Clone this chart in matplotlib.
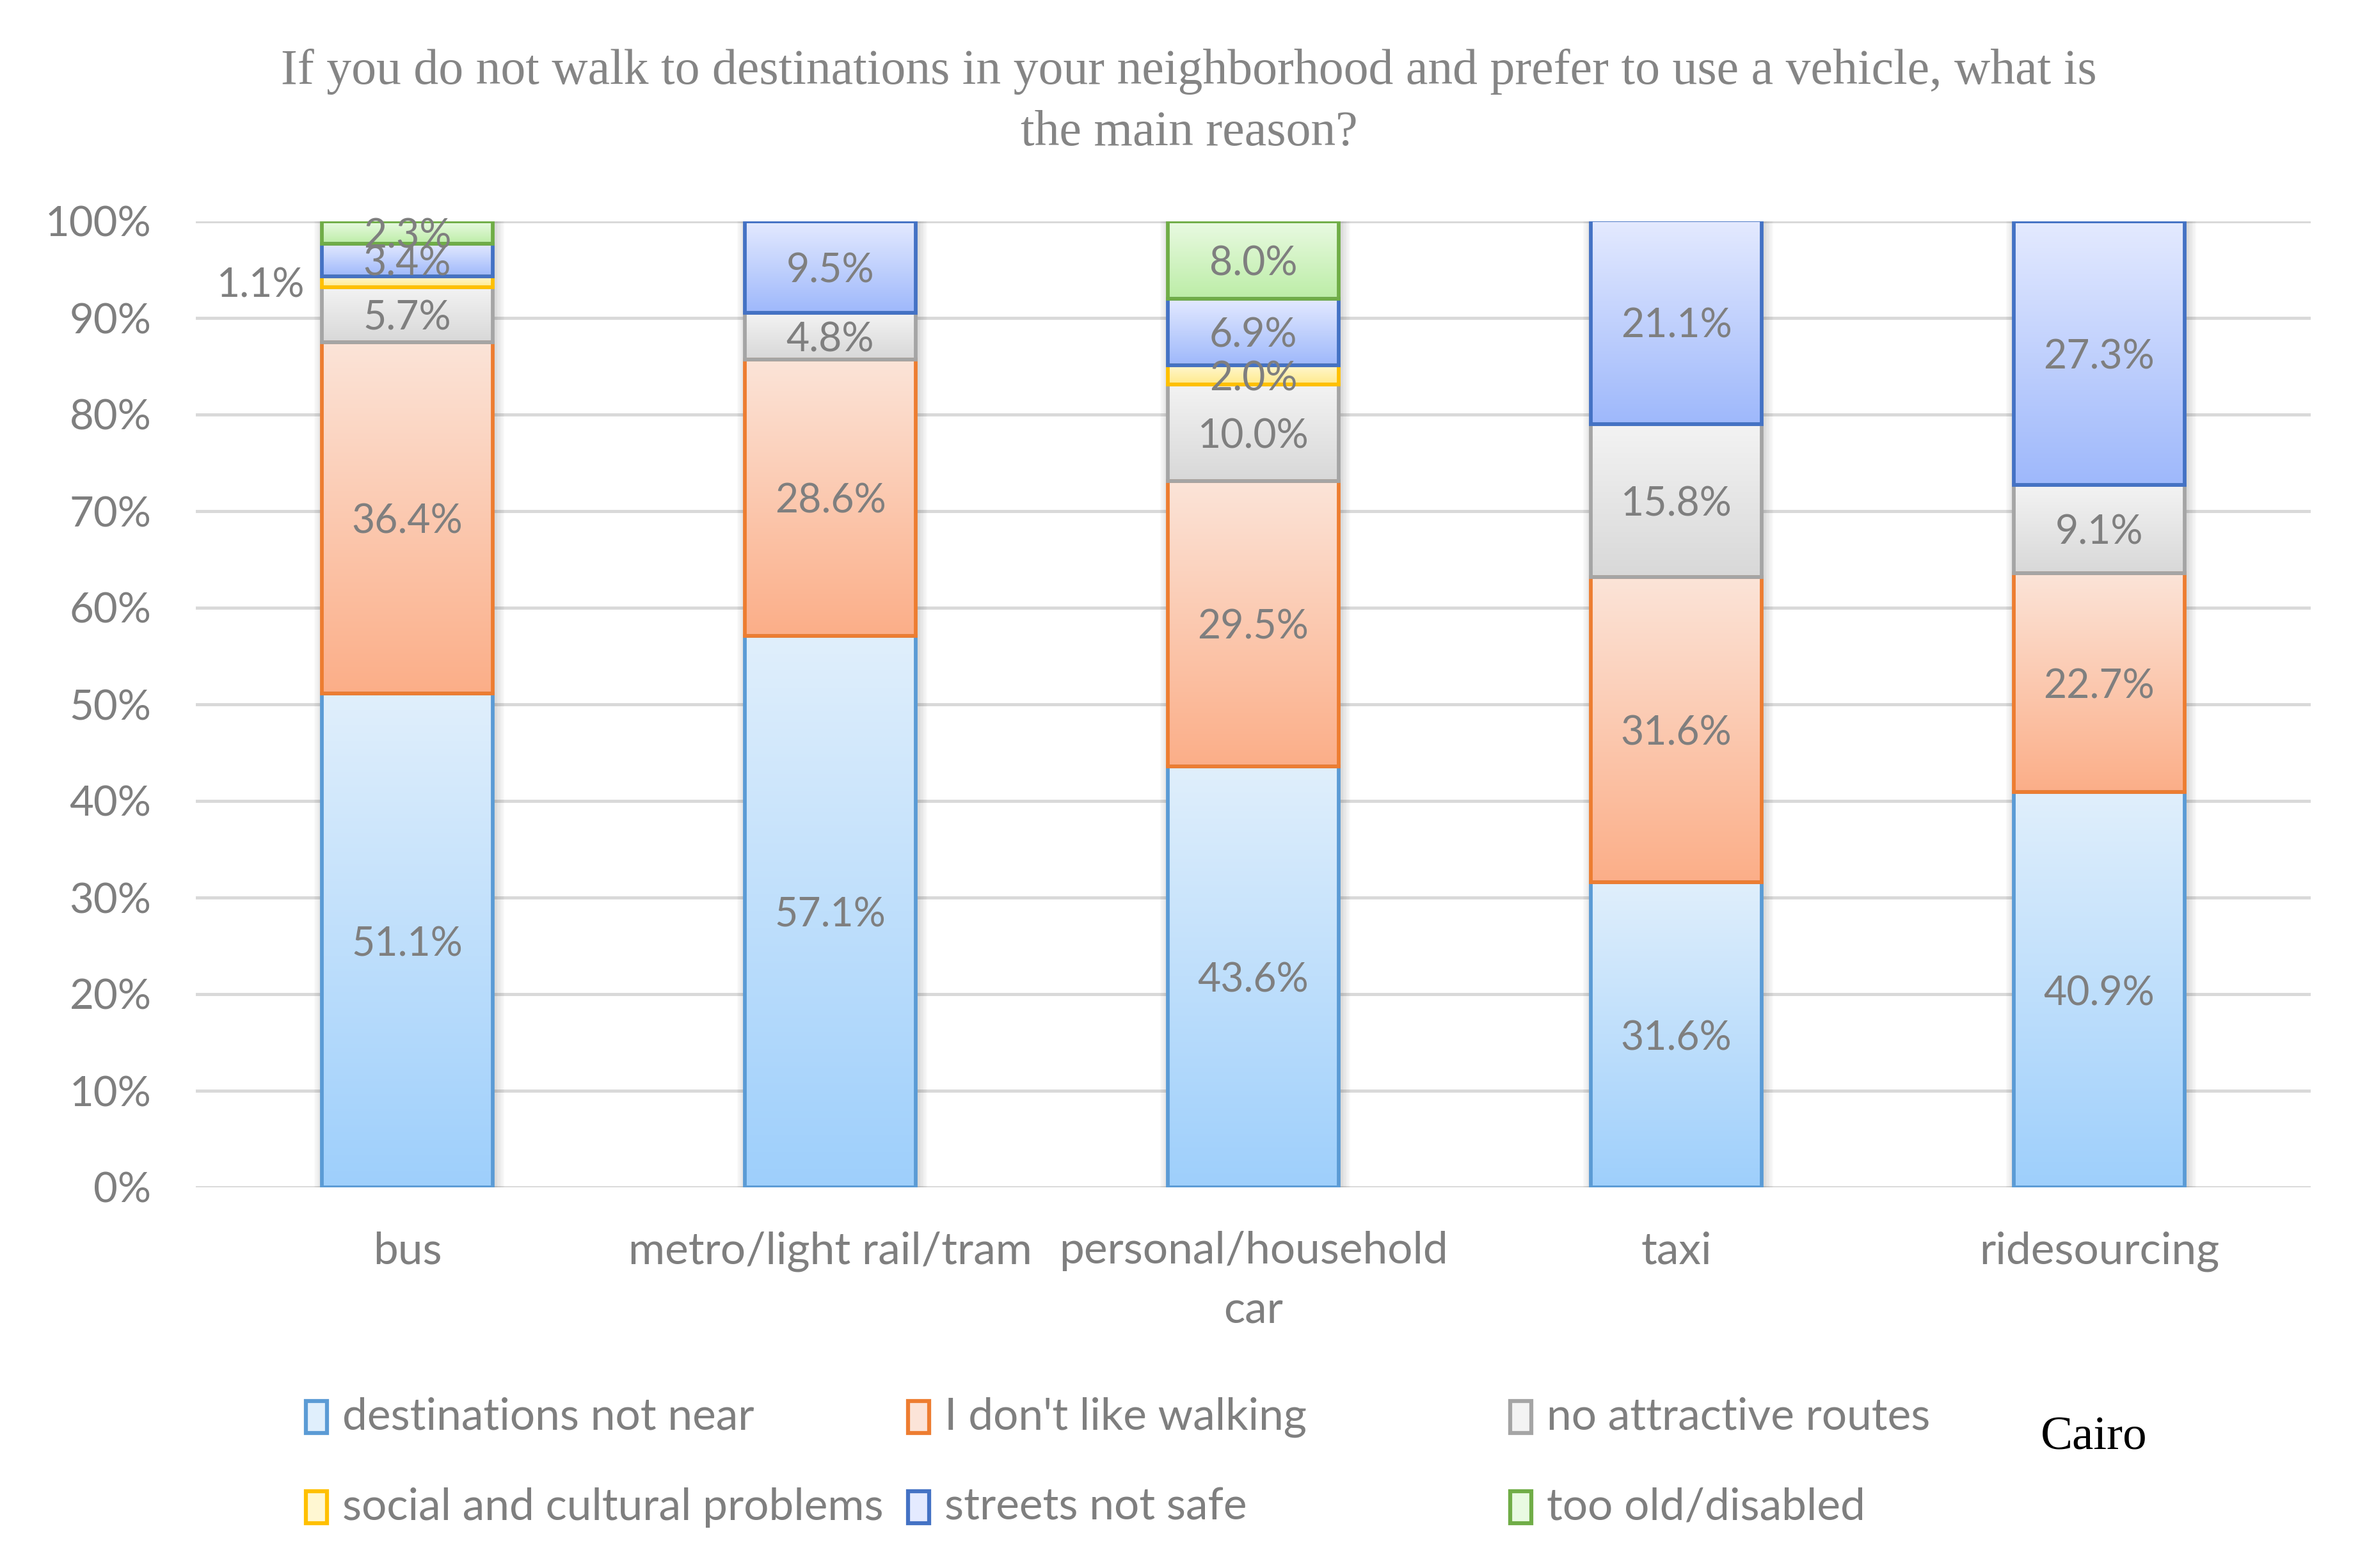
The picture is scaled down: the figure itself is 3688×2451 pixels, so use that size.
import numpy as np
import matplotlib
matplotlib.use("Agg")
import matplotlib.pyplot as plt
from matplotlib.patches import Rectangle
from matplotlib.colors import LinearSegmentedColormap

# data (percent of respondents, Cairo)
categories = ["bus", "metro/light rail/tram", "personal/household\ncar", "taxi", "ridesourcing"]
reasons = ["destinations not near", "I don't like walking", "no attractive routes",
           "social and cultural problems", "streets not safe", "too old/disabled"]

destinations_not_near = [51.1, 57.1, 43.6, 31.6, 40.9]
dont_like_walking = [36.4, 28.6, 29.5, 31.6, 22.7]
no_attractive_routes = [5.7, 4.8, 10.0, 15.8, 9.1]
social_cultural = [1.1, 0.0, 2.0, 0.0, 0.0]
streets_not_safe = [3.4, 9.5, 6.9, 21.1, 27.3]
too_old_disabled = [2.3, 0.0, 8.0, 0.0, 0.0]

series = [destinations_not_near, dont_like_walking, no_attractive_routes,
          social_cultural, streets_not_safe, too_old_disabled]

yticks = [0, 10, 20, 30, 40, 50, 60, 70, 80, 90, 100]
ytick_labels = [f"{t}%" for t in yticks]

# styling
edge_colors = ["#5B9BD5", "#ED7D31", "#A5A5A5", "#FFC000", "#4472C4", "#70AD47"]
top_colors = ["#E0EFFC", "#FCE4D8", "#F3F3F3", "#FFF7D2", "#E4EAFF", "#E9FAE2"]
bottom_colors = ["#9ECFFB", "#FBAE88", "#D8D8D8", "#FFEA8A", "#9EB8FB", "#BCEDA6"]
text_gray = "#7F7F7F"
sans = ["Lato", "DejaVu Sans"]
serif = ["Liberation Serif", "DejaVu Serif"]

W, H, DPI = 3688, 2451, 100
fig = plt.figure(figsize=(W / DPI, H / DPI), dpi=DPI)
fig.patch.set_facecolor("white")

ax_left, ax_right, ax_top, ax_bot = 306, 3611, 346, 1856
ax = fig.add_axes([ax_left / W, 1 - ax_bot / H, (ax_right - ax_left) / W, (ax_bot - ax_top) / H])

x = np.arange(len(categories))
bar_w = 0.405
px_x = (ax_right - ax_left) / 5.0      # pixels per x unit
px_y = (ax_bot - ax_top) / 100.0       # pixels per percent
lab_dy = -6 / px_y                     # nudge labels down a little

# soft shadow behind each stacked bar
for xi in x:
    for k in range(1, 7):
        gx = k * 2.5 / px_x
        gy = k * 2.5 / px_y
        ax.add_patch(Rectangle((xi - bar_w / 2 - gx + 3 / px_x, -gy - 3 / px_y),
                               bar_w + 2 * gx, 100 + 2 * gy,
                               facecolor="black", edgecolor="none", alpha=0.025, zorder=1.5))

bottoms = np.zeros(len(categories))
for i, vals in enumerate(series):
    vals = np.array(vals)
    cmap = LinearSegmentedColormap.from_list(f"g{i}", [top_colors[i], bottom_colors[i]])
    keep = vals > 0
    ax.bar(x[keep], vals[keep], bottom=bottoms[keep], width=bar_w, facecolor="none",
           edgecolor=edge_colors[i], linewidth=4.2, zorder=3 + i * 0.01)
    for xi, b, v in zip(x, bottoms, vals):
        if v <= 0:
            continue
        grad = np.linspace(0, 1, 256).reshape(-1, 1)
        ax.imshow(grad, extent=[xi - bar_w / 2, xi + bar_w / 2, b, b + v],
                  aspect="auto", cmap=cmap, origin="upper", zorder=2, interpolation="bilinear")
        label = f"{v:.1f}%"
        if i == 3 and xi == 0:
            # small slice on the bus bar: label sits left of the bar
            ax.text(xi - bar_w / 2 - 26 / px_x, b + v / 2 + lab_dy, label, ha="right", va="center",
                    fontsize=45, color=text_gray, family=sans, zorder=5)
        else:
            ax.text(xi, b + v / 2 + lab_dy, label, ha="center", va="center",
                    fontsize=45, color=text_gray, family=sans, zorder=5)
    bottoms = bottoms + vals

ax.set_xlim(-0.5, 4.5)
ax.set_ylim(0, 100)
ax.set_yticks(yticks)
ax.set_yticklabels(ytick_labels, fontsize=47, color=text_gray, family=sans)
ax.set_xticks(x)
ax.set_xticklabels(categories, fontsize=50, color=text_gray, family=sans, linespacing=1.6)
ax.tick_params(axis="y", length=0, pad=50)
ax.tick_params(axis="x", length=0, pad=49)
ax.yaxis.grid(True, color="#D9D9D9", linewidth=3.5)
ax.set_axisbelow(True)
for s in ax.spines.values():
    s.set_visible(False)
ax.set_facecolor("none")

# title
fig.text(1858 / W, 1 - 160 / H,
         "If you do not walk to destinations in your neighborhood and prefer to use a vehicle, what is\nthe main reason?",
         ha="center", va="center", fontsize=56, color="#858585", family=serif, linespacing=1.45)

# legend, laid out in a 3 x 2 grid like the original
leg_cols = [494, 1435, 2376]
leg_rows = [2215, 2356]
for i, name in enumerate(reasons):
    cx = leg_cols[i % 3]
    cy = leg_rows[i // 3]
    mw, mh = 33, 50
    fig.add_artist(Rectangle(((cx - mw / 2) / W, 1 - (cy + mh / 2) / H), mw / W, mh / H,
                             transform=fig.transFigure, facecolor=top_colors[i],
                             edgecolor=edge_colors[i], linewidth=4.5))
    fig.text((cx + mw / 2 + 24) / W, 1 - cy / H, name, ha="left", va="center",
             fontsize=50, color=text_gray, family=sans)

fig.text(3272 / W, 1 - 2248 / H, "Cairo", ha="center", va="center",
         fontsize=54, color="black", family=serif)

fig.savefig("out.png", dpi=DPI)
